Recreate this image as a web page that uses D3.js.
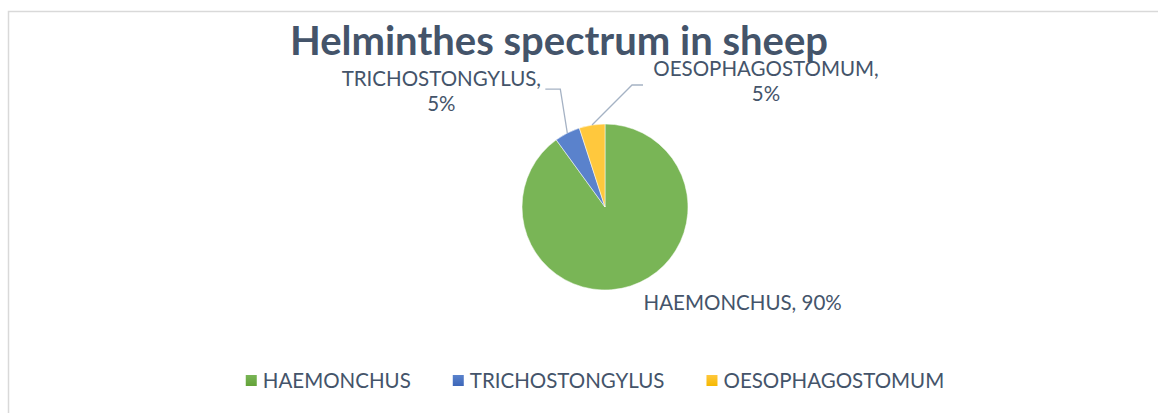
<!DOCTYPE html>
<html>
<head>
<meta charset="utf-8">
<script src="https://cdn.jsdelivr.net/npm/d3@7"></script>
<style>
	body { margin: 0; background: #fff; }
	svg { display: block; font-family: Lato, 'Open Sans', sans-serif; }
</style>
</head>
<body>
<svg id="chart" width="1158" height="413"></svg>
<script>
const title = 'Helminthes spectrum in sheep'
const categories = ['HAEMONCHUS', 'TRICHOSTONGYLUS', 'OESOPHAGOSTOMUM']
const values = [90, 5, 5]
const labelText = ['HAEMONCHUS, 90%', 'TRICHOSTONGYLUS,|5%', 'OESOPHAGOSTOMUM,|5%']

const width = 1158, height = 413
const cx = 605, cy = 207, r = 83
const textColor = '#44546a'
const colors = d3.scaleOrdinal().domain(categories).range(['#70ad47', '#4472c4', '#ffc000'])
// lighter / darker ends of each slice gradient
const shades = { '#70ad47': ['#79b556', '#63a238'], '#4472c4': ['#5a82cc', '#3c66b8'], '#ffc000': ['#ffc83d', '#f5b800'] }

// label layout relative to the slice's outer mid point
const labelLayout = [
	{ dx: 112, dy: 24, leader: null },
	{ dx: -126, dy: -47, leader: [[-7, -44], [-22, -44]] },
	{ dx: 174, dy: -49, leader: [[40, -40], [51, -40]] }
]

let svg = d3.select('#chart')

// chart border
svg.append('rect')
	.attr('x', 8.5).attr('y', 11.5)
	.attr('width', width).attr('height', height)
	.attr('fill', 'none')
	.attr('stroke', '#d9d9d9')
	.attr('stroke-width', 1.5)

svg.append('text')
	.attr('x', 559).attr('y', 55)
	.attr('text-anchor', 'middle')
	.attr('fill', textColor)
	.attr('font-size', 40)
	.attr('font-weight', 700)
	.text(title)

let defs = svg.append('defs')
categories.forEach((c, i) => {
	let g = defs.append('linearGradient')
		.attr('id', 'grad' + i)
		.attr('gradientUnits', 'userSpaceOnUse')
		.attr('x1', 0).attr('y1', cy - r).attr('x2', 0).attr('y2', cy + r)
	g.append('stop').attr('offset', '0%').attr('stop-color', shades[colors(c)][0])
	g.append('stop').attr('offset', '100%').attr('stop-color', shades[colors(c)][1])
})

let pie = d3.pie().sort(null).value(d => d)
let arcs = pie(values)
let arc = d3.arc().innerRadius(0).outerRadius(r)

let g = svg.append('g').attr('transform', `translate(${cx},${cy})`)
g.selectAll('path')
	.data(arcs)
	.enter().append('path')
	.attr('d', arc)
	.attr('fill', (d, i) => `url(#grad${i})`)
	.attr('stroke', '#fff')
	.attr('stroke-width', 0.5)

arcs.forEach((d, i) => {
	let a = (d.startAngle + d.endAngle) / 2
	let px = Math.sin(a) * r, py = -Math.cos(a) * r
	let lay = labelLayout[i]
	if (lay.leader) {
		let pts = [[px, py]].concat(lay.leader.map(p => [px + p[0], py + p[1]]))
		g.append('path')
			.attr('d', d3.line()(pts))
			.attr('fill', 'none')
			.attr('stroke', '#a5b2c4')
			.attr('stroke-width', 1.3)
	}
	let lines = labelText[i].split('|')
	let t = g.append('text')
		.attr('text-anchor', 'middle')
		.attr('fill', textColor)
		.attr('font-size', 20.5)
	lines.forEach((s, k) => {
		t.append('tspan')
			.attr('x', px + lay.dx)
			.attr('y', py + lay.dy + k * 25)
			.text(s)
	})
})

// legend, centred under the chart
let legend = svg.append('g').attr('transform', 'translate(0,388)')
let items = legend.selectAll('g')
	.data(categories)
	.enter().append('g')
items.append('rect')
	.attr('y', -13)
	.attr('width', 11).attr('height', 11)
	.attr('fill', (d, i) => `url(#lg${i})`)
items.append('text')
	.attr('x', 17)
	.attr('fill', textColor)
	.attr('font-size', 20.5)
	.text(d => d)

categories.forEach((c, i) => {
	let lg = defs.append('linearGradient')
		.attr('id', 'lg' + i)
		.attr('x1', 0).attr('y1', 0).attr('x2', 0).attr('y2', 1)
	lg.append('stop').attr('offset', '0%').attr('stop-color', shades[colors(c)][0])
	lg.append('stop').attr('offset', '100%').attr('stop-color', shades[colors(c)][1])
})

let widths = items.nodes().map(n => n.getBBox().width)
let gap = 42
let total = d3.sum(widths) + gap * (widths.length - 1)
let x = 595 - total / 2
items.attr('transform', (d, i) => {
	let tx = x
	x += widths[i] + gap
	return `translate(${tx},0)`
})
</script>
</body>
</html>
